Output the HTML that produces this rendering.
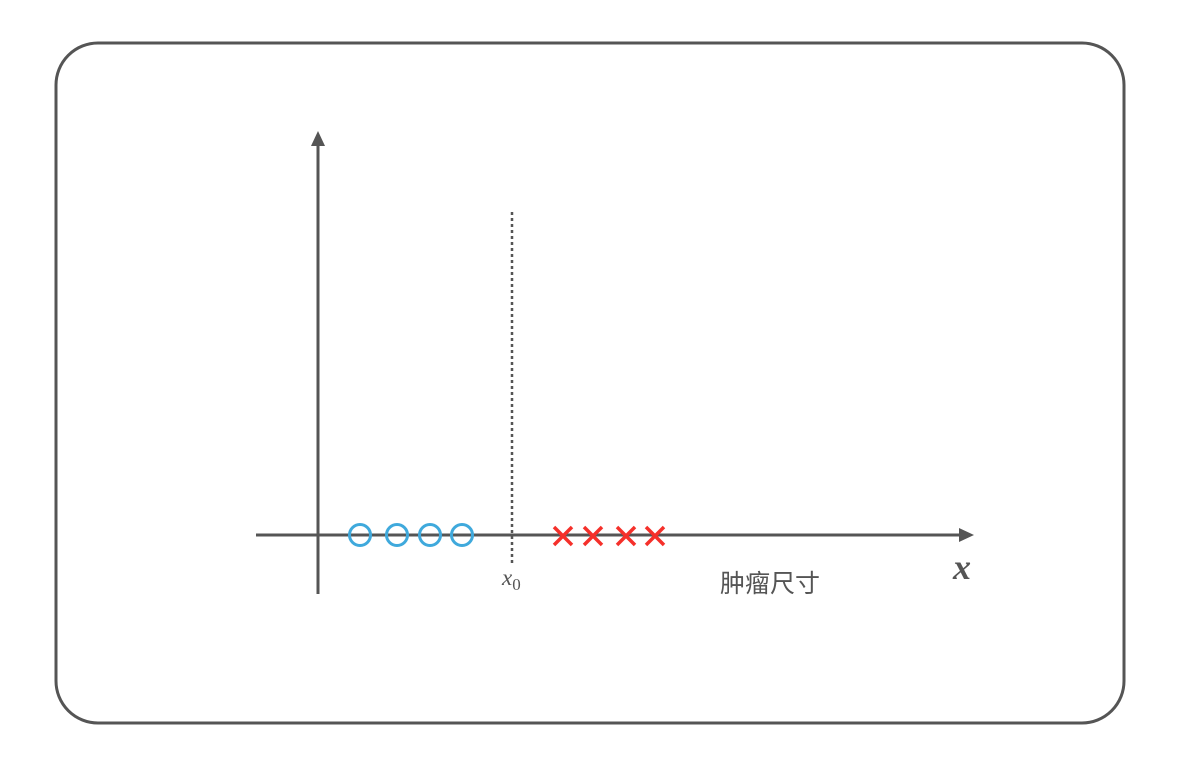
<!DOCTYPE html>
<html><head><meta charset="utf-8"><style>
html,body{margin:0;padding:0;background:#fff;}
svg{display:block;}
</style></head><body>
<svg id="chart" width="1198" height="766" viewBox="0 0 1198 766" xmlns="http://www.w3.org/2000/svg">
<rect x="56" y="43" width="1068" height="680" rx="42" ry="42" fill="#fff" stroke="#555" stroke-width="3"/>
<line x1="318" y1="594" x2="318" y2="144" stroke="#555" stroke-width="3"/>
<polygon points="318,131 311,146 325,146" fill="#555"/>
<line x1="256" y1="535" x2="960" y2="535" stroke="#555" stroke-width="3"/>
<polygon points="974,535 959,528 959,542" fill="#555"/>
<g id="marks"></g>
<text x="953" y="579" font-family="Liberation Serif, serif" font-style="italic" font-weight="bold" font-size="36" fill="#555">x</text>
<text x="720" y="592" font-family="'Liberation Sans','Noto Sans CJK SC',sans-serif" font-size="25" fill="#555">肿瘤尺寸</text>
</svg>
<script>
const benignValues = [0.84, 1.58, 2.24, 2.88];
const malignantValues = [4.9, 5.5, 6.16, 6.74];
const thresholdValue = [3.88];
const thresholdLabel = ['x', '0'];

const NS = 'http://www.w3.org/2000/svg';
const x0px = 318, unit = 50, axisY = 535;
function xScale(v){ return x0px + v * unit; }
const g = document.getElementById('marks');

const th = xScale(thresholdValue[0]);
const dl = document.createElementNS(NS,'line');


dl.setAttribute('x1', th); dl.setAttribute('x2', th);
dl.setAttribute('y1', 212); dl.setAttribute('y2', 564);
dl.setAttribute('stroke', '#555'); dl.setAttribute('stroke-width', 2.5);
dl.setAttribute('stroke-dasharray', '3 3');
g.appendChild(dl);

const tl = document.createElementNS(NS,'text');


tl.setAttribute('x', th - 10); tl.setAttribute('y', 585);
tl.setAttribute('font-family', 'Liberation Serif, serif');
tl.setAttribute('fill', '#555');
tl.innerHTML = '<tspan font-style="italic" font-size="23">' + thresholdLabel[0] + '</tspan><tspan font-size="17" dy="5">' + thresholdLabel[1] + '</tspan>';
g.appendChild(tl);

benignValues.forEach(v => {
  const c = document.createElementNS(NS,'circle');
  
  
  c.setAttribute('cx', xScale(v)); c.setAttribute('cy', axisY);
  c.setAttribute('r', 10.5);
  c.setAttribute('fill', 'none'); c.setAttribute('stroke', '#3fa9dc'); c.setAttribute('stroke-width', 3);
  g.appendChild(c);
});
malignantValues.forEach(v => {
  const cx = xScale(v), cy = axisY + 1, s = 9;
  const p = document.createElementNS(NS,'path');
  
  
  p.setAttribute('d', `M${cx-s},${cy-s}L${cx+s},${cy+s}M${cx+s},${cy-s}L${cx-s},${cy+s}`);
  p.setAttribute('stroke', '#f5302a'); p.setAttribute('stroke-width', 3.5);
  g.appendChild(p);
});
</script>
</body></html>
